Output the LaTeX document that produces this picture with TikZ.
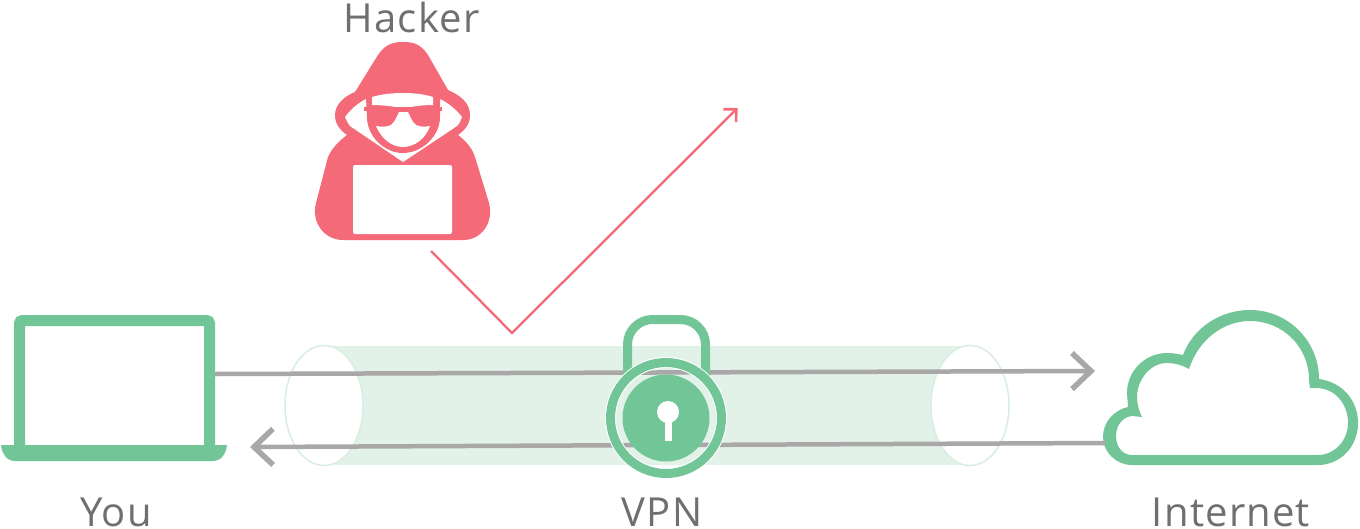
\documentclass[tikz,border=0pt]{standalone}
\usepackage{fontspec}
\setmainfont[LetterSpace=3]{Open Sans}
\usepackage{xcolor}
\usetikzlibrary{arrows.meta}
\usetikzlibrary{shapes.geometric}
\definecolor{vpngreen}{HTML}{72C596}
\definecolor{tunnelgreen}{HTML}{E2F2E9}
\definecolor{tubeedge}{HTML}{D8EEE2}
\definecolor{hackred}{HTML}{F46A78}
\definecolor{wiregray}{HTML}{A9A7A8}
\definecolor{labelgray}{HTML}{6F6F6F}

\begin{document}
\begin{tikzpicture}
	[x=1pt, y=-1pt,
	label/.style = {font=\fontsize{40}{40}\selectfont, text=labelgray, anchor=base, inner sep=0pt},
	tube/.style = {draw=tubeedge, fill=white, ellipse, line width=1.5pt, minimum width=78pt, minimum height=120pt, inner sep=0pt},
	wire/.style = {draw=wiregray, line width=4.5pt, -{Straight Barb[length=19pt, width=36pt, line width=5.5pt]}},
	ring/.style = {draw, circle, inner sep=0pt}]
	\useasboundingbox (0,0) rectangle (1360,528);
	\fill[white] (0,0) rectangle (1360,528);
	% tunnel
	\fill[tunnelgreen] (324,346) rectangle (970,465);
	\node[tube] (tubeleft) at (324,405.5) {};
	\node[tube] (tuberight) at (970,405.5) {};
	% laptop
	\node[draw=vpngreen, line width=11pt, rounded corners=3pt, minimum width=190pt, minimum height=130pt, inner sep=0pt] (you) at (114.5,385.5) {};
	\fill[vpngreen] (1,445) -- (227,445) .. controls (226,454) and (221,461) .. (213,461) -- (15,461) .. controls (7,461) and (2,454) .. (1,445) -- cycle;
	% cloud
	\fill[vpngreen, even odd rule] (1183,355) .. controls (1193,328) and (1220,310) .. (1250,310)
		.. controls (1288,310) and (1319,341) .. (1319,379)
		.. controls (1342,382) and (1358,400) .. (1358,423)
		.. controls (1358,447) and (1340,465) .. (1318,465) -- (1132,465)
		.. controls (1116,465) and (1103,452) .. (1103,437)
		.. controls (1103,422) and (1114,410) .. (1128,407) -- (1127,393)
		.. controls (1127,371) and (1145,353) .. (1167,353)
		.. controls (1173,353) and (1178,354) .. (1183,355) -- cycle
		(1189,369) .. controls (1198,341) and (1222,321) .. (1250,321)
		.. controls (1283,321) and (1309,347) .. (1309,380) -- (1310,388) -- (1316,388)
		.. controls (1335,388) and (1348,404) .. (1348,423)
		.. controls (1348,441) and (1334,455) .. (1318,455) -- (1132,455)
		.. controls (1122,455) and (1116,446) .. (1116,436)
		.. controls (1116,426) and (1122,417) .. (1132,416) -- (1142,417)
		.. controls (1139,411) and (1137,404) .. (1137,397)
		.. controls (1137,380) and (1150,363) .. (1167,363)
		.. controls (1175,363) and (1182,365) .. (1189,369) -- cycle;
	% wires
	\coordinate (youout) at (215,374);
	\coordinate (netin) at (1095,371);
	\coordinate (netout) at (1105,443);
	\coordinate (youin) at (250,447);
	\draw[wire] (youout) -- (netin);
	\draw[wire] (netout) -- (youin);
	% lock
	\draw[vpngreen, line width=9pt, rounded corners=25pt] (627.5,376) -- (627.5,319.5) -- (705.5,319.5) -- (705.5,376);
	\node[ring, draw=white, line width=11pt, minimum size=111pt] (lockhalo) at (666,418) {};
	\node[ring, draw=vpngreen, line width=9pt, minimum size=111pt] (lock) at (666,418) {};
	\node[ring, fill=vpngreen, draw=none, minimum size=87pt] (lockdisc) at (666,418) {};
	\node[ring, fill=white, draw=none, minimum size=22pt] (keyhole) at (668,412) {};
	\fill[white] (664.5,412) rectangle (671.5,441);
	% hacker
	\fill[hackred] (378,55) .. controls (386,43) and (395,42) .. (403,42) .. controls (412,42) and (420,43) .. (428,55)
		-- (448,90) .. controls (462,96) and (470,104) .. (470,115) .. controls (470,124) and (465,130) .. (458,135)
		.. controls (466,141) and (472,148) .. (475,157) -- (489,203) .. controls (494,222) and (482,240) .. (463,240)
		-- (343,240) .. controls (324,240) and (311,222) .. (316,203) -- (328,157)
		.. controls (332,148) and (339,141) .. (347,135) .. controls (340,130) and (335,124) .. (335,115)
		.. controls (335,104) and (345,96) .. (355,92) -- cycle;
	\fill[white] (345,117) .. controls (351,109) and (358,103) .. (366,99) -- (440,99)
		.. controls (448,103) and (456,109) .. (462,117) .. controls (461,120) and (460,123) .. (457,126)
		-- (403,162) -- (350,126) .. controls (348,123) and (346,120) .. (345,117) -- cycle;
	\fill[hackred] (366,98) -- (440,98) -- (440,117) .. controls (440,136) and (422,153) .. (403,153)
		.. controls (384,153) and (367,136) .. (367,117) -- cycle;
	\fill[white] (372,97) .. controls (382,94) and (393,93) .. (403,93) .. controls (413,93) and (424,94) .. (433,97)
		-- (433,105) .. controls (420,105) and (412,107) .. (403,108)
		.. controls (394,107) and (386,105) .. (372,105) -- cycle;
	\fill[white] (376,126) .. controls (381,127) and (387,127) .. (391,125) .. controls (395,122) and (397,116) .. (399,112)
		-- (408,112) .. controls (410,116) and (412,122) .. (416,125) .. controls (420,127) and (425,127) .. (430,126)
		.. controls (426,138) and (415,147) .. (403,147) .. controls (391,147) and (381,138) .. (376,126) -- cycle;
	\fill[hackred] (363.5,107) rectangle (442,111);
	\node[fill=white, rounded corners=2pt, minimum width=99pt, minimum height=69pt, inner sep=0pt] (screen) at (402.5,199.5) {};
	% tap
	\coordinate (tapstart) at (431,251);
	\coordinate (tapkink) at (512,333);
	\coordinate (tapend) at (737.5,108);
	\draw[hackred, line width=2.3pt, -{Straight Barb[length=9pt, width=18pt, line width=2.6pt]}] (tapstart) -- (tapkink) -- (tapend);
	% labels
	\node[label] (hackerlabel) at (411.5,32) {Hacker};
	\node[label] (youlabel) at (116,526) {You};
	\node[label] (vpnlabel) at (662,526) {VPN};
	\node[label] (internetlabel) at (1231,526) {Internet};
\end{tikzpicture}
\end{document}
